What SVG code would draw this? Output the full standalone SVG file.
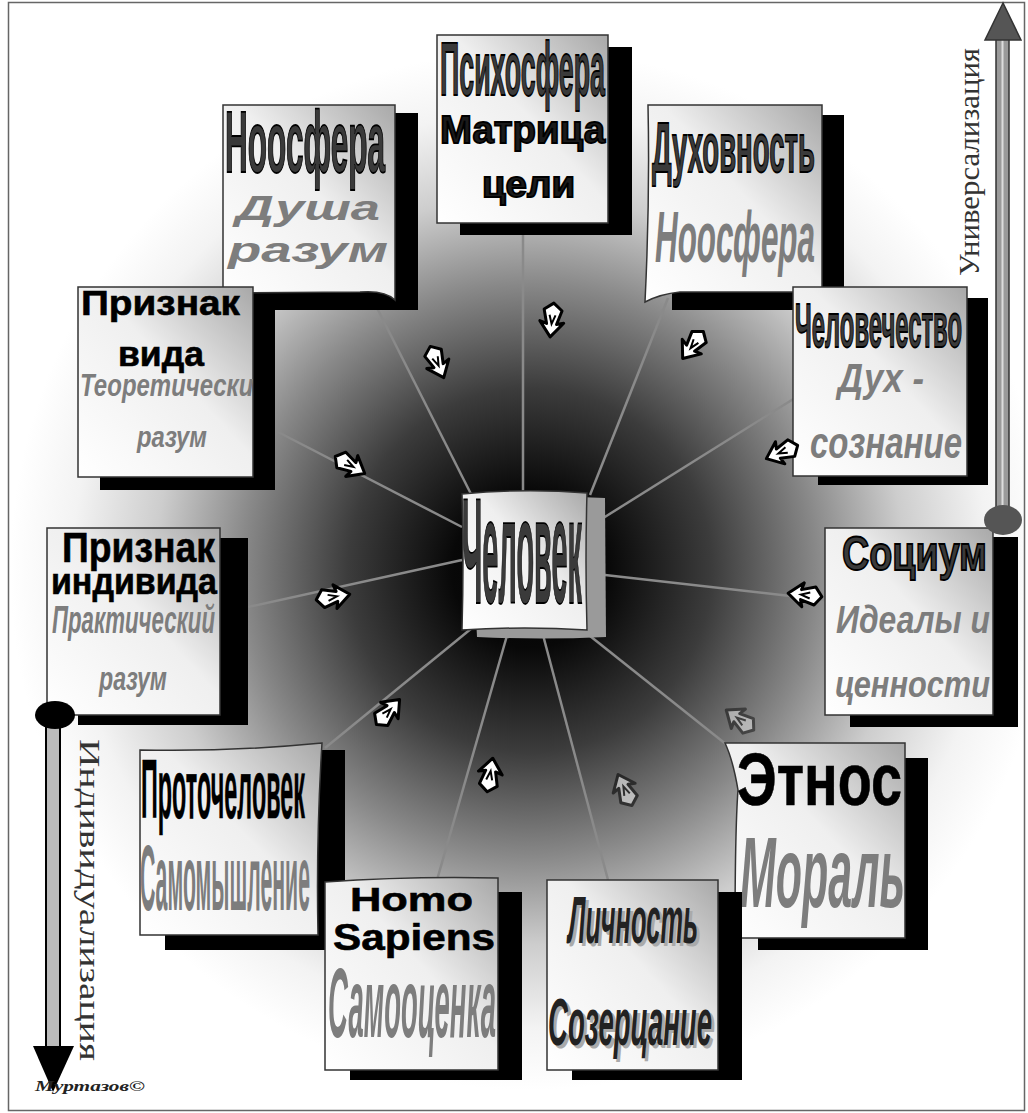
<svg xmlns="http://www.w3.org/2000/svg" xmlns:xlink="http://www.w3.org/1999/xlink" width="1028" height="1113" viewBox="0 0 1028 1113">
<defs>
<radialGradient id="bg" cx="530" cy="570" r="520" gradientUnits="userSpaceOnUse">
<stop offset="0" stop-color="#000"/>
<stop offset="0.15" stop-color="#080808"/>
<stop offset="0.35" stop-color="#3c3c3c"/>
<stop offset="0.55" stop-color="#888"/>
<stop offset="0.72" stop-color="#cdcdcd"/>
<stop offset="0.88" stop-color="#f3f3f3"/>
<stop offset="1" stop-color="#fff"/>
</radialGradient>
<linearGradient id="paper" x1="0" y1="1" x2="1" y2="0">
<stop offset="0" stop-color="#fff"/>
<stop offset="0.55" stop-color="#efefef"/>
<stop offset="1" stop-color="#a8a8a8"/>
</linearGradient>
<clipPath id="clipVida"><rect x="78" y="287" width="175" height="190"/></clipPath>
<g id="arr">
<path d="M17,0 L2,-12 L4,-5 L-10,-9 L-17,0 L-10,9 L4,5 L2,12 Z" fill="#fff" stroke="#000" stroke-width="3" stroke-linejoin="round"/>
<path d="M-5,-3 L4,0 L-5,3" fill="none" stroke="#000" stroke-width="2"/>
</g>
</defs>
<style>
.sh{fill:#000}
.pp{fill:url(#paper);stroke:#333;stroke-width:1.5}
.dk{font-family:"Liberation Sans",Arial,sans-serif;font-weight:bold;fill:#3a3a3a;stroke:#000;stroke-width:1.8}
.bk{font-family:"Liberation Sans",Arial,sans-serif;font-weight:bold;fill:#000;stroke:#000;stroke-width:0.6}
.gi{font-family:"Liberation Sans",Arial,sans-serif;font-weight:bold;font-style:italic;fill:#7d7d7d}
.gu{font-family:"Liberation Sans",Arial,sans-serif;font-weight:bold;fill:#7d7d7d}
.di{font-family:"Liberation Sans",Arial,sans-serif;font-weight:bold;font-style:italic;fill:#222}
.ln{stroke:#8a8a8a;stroke-width:2.5;fill:none}
.ax{font-family:"Liberation Serif","Times New Roman",serif;fill:#333}
</style>
<rect x="8.5" y="2.5" width="1016" height="1108" fill="url(#bg)" stroke="#666" stroke-width="1.5"/>
<g id="connectors">
<line class="ln" x1="376" y1="306" x2="472" y2="496"/>
<line class="ln" x1="523" y1="225" x2="523" y2="493"/>
<line class="ln" x1="668" y1="298" x2="590" y2="495"/>
<line class="ln" x1="278" y1="432" x2="462" y2="527"/>
<line class="ln" x1="795" y1="398" x2="600" y2="520"/>
<line class="ln" x1="248" y1="607" x2="462" y2="560"/>
<line class="ln" x1="825" y1="600" x2="605" y2="575"/>
<line class="ln" x1="325" y1="748" x2="472" y2="628"/>
<line class="ln" x1="727" y1="745" x2="585" y2="632"/>
<line class="ln" x1="437" y1="880" x2="508" y2="632"/>
<line class="ln" x1="608" y1="880" x2="543" y2="635"/>
</g>
<g id="n-center">
<path d="M470,500 Q540,494 605,498 L606,637 Q540,640 477,637 Z" fill="#9a9a9a"/>
<path d="M462,494 Q525,488 587,493 Q585,560 587,630 Q525,626 462,630 Q464,560 462,494 Z" class="pp"/>
<text class="dk" x="462" y="603" font-size="150" textLength="120" lengthAdjust="spacingAndGlyphs">Человек</text>
</g>
<g id="n-noosfera">
<rect class="sh" x="240" y="113" width="178" height="197"/>
<path class="pp" d="M223,105 L395,105 L395,300 Q385,290 360,292 L223,293 Z"/>
<text class="dk" x="225" y="172" font-size="88" textLength="160" lengthAdjust="spacingAndGlyphs">Ноосфера</text>
<text class="gi" x="236" y="220" font-size="35" textLength="144" lengthAdjust="spacingAndGlyphs">Душа</text>
<text class="gi" x="228" y="262" font-size="35" textLength="160" lengthAdjust="spacingAndGlyphs">разум</text>
</g>
<g id="n-psycho">
<rect class="sh" x="460" y="47" width="172" height="188"/>
<rect class="pp" x="437" y="35" width="171" height="188"/>
<text class="dk" x="440" y="95" font-size="76" textLength="165" lengthAdjust="spacingAndGlyphs">Психосфера</text>
<text class="dk" x="440" y="143" font-size="39" textLength="165" lengthAdjust="spacingAndGlyphs" style="fill:#1a1a1a">Матрица</text>
<text class="dk" x="482" y="197" font-size="37" textLength="93" lengthAdjust="spacingAndGlyphs" style="fill:#1a1a1a">цели</text>
</g>
<g id="n-duh">
<rect class="sh" x="672" y="115" width="172" height="195"/>
<path class="pp" d="M648,105 L822,105 L822,292 L680,292 Q660,294 645,302 Q650,200 648,105 Z"/>
<text class="dk" x="652" y="172" font-size="70" textLength="163" lengthAdjust="spacingAndGlyphs">Духовность</text>
<text class="gi" x="655" y="262" font-size="72" textLength="160" lengthAdjust="spacingAndGlyphs">Ноосфера</text>
</g>
<g id="n-vida">
<rect class="sh" x="100" y="300" width="175" height="190"/>
<rect class="pp" x="78" y="287" width="175" height="190"/>
<text class="bk" x="81" y="315" font-size="35" textLength="159" lengthAdjust="spacingAndGlyphs">Признак</text>
<text class="bk" x="118" y="366" font-size="35" textLength="86" lengthAdjust="spacingAndGlyphs">вида</text>
<text class="gi" x="80" y="396" font-size="31" textLength="188" lengthAdjust="spacingAndGlyphs" clip-path="url(#clipVida)">Теоретический</text>
<text class="gi" x="137" y="447" font-size="30" textLength="70" lengthAdjust="spacingAndGlyphs">разум</text>
</g>
<g id="n-chelovechestvo">
<rect class="sh" x="818" y="298" width="170" height="187"/>
<rect class="pp" x="793" y="287" width="174" height="189"/>
<text class="dk" x="795" y="347" font-size="63" textLength="167" lengthAdjust="spacingAndGlyphs">Человечество</text>
<text class="gi" x="838" y="392" font-size="40" textLength="86" lengthAdjust="spacingAndGlyphs">Дух -</text>
<text class="gi" x="810" y="458" font-size="44" textLength="152" lengthAdjust="spacingAndGlyphs">сознание</text>
</g>
<g id="n-individ">
<rect class="sh" x="78" y="538" width="170" height="187"/>
<rect class="pp" x="47" y="528" width="173" height="187"/>
<text class="bk" x="62" y="562" font-size="42" textLength="153" lengthAdjust="spacingAndGlyphs">Признак</text>
<text class="bk" x="51" y="594" font-size="36" textLength="166" lengthAdjust="spacingAndGlyphs">индивида</text>
<text class="gi" x="52" y="633" font-size="39" textLength="163" lengthAdjust="spacingAndGlyphs">Практический</text>
<text class="gi" x="99" y="690" font-size="33" textLength="68" lengthAdjust="spacingAndGlyphs">разум</text>
</g>
<g id="n-socium">
<rect class="sh" x="850" y="537" width="168" height="190"/>
<rect class="pp" x="825" y="528" width="168" height="187"/>
<text class="dk" x="842" y="570" font-size="48" textLength="145" lengthAdjust="spacingAndGlyphs">Социум</text>
<text class="gi" x="836" y="633" font-size="39" textLength="154" lengthAdjust="spacingAndGlyphs">Идеалы и</text>
<text class="gi" x="835" y="697" font-size="36" textLength="155" lengthAdjust="spacingAndGlyphs">ценности</text>
</g>
<g id="n-proto">
<rect class="sh" x="165" y="750" width="180" height="200"/>
<path class="pp" d="M140,750 Q230,752 322,743 Q316,840 318,935 L140,935 Z"/>
<text class="bk" x="141" y="818" font-size="84" textLength="164" lengthAdjust="spacingAndGlyphs">Проточеловек</text>
<text class="gu" x="140" y="910" font-size="92" textLength="170" lengthAdjust="spacingAndGlyphs">Самомышление</text>
</g>
<g id="n-etnos">
<rect class="sh" x="758" y="758" width="170" height="192"/>
<path class="pp" d="M725,743 L905,743 L905,938 L735,938 Q735,830 738,790 Q733,760 725,743 Z"/>
<text class="bk" x="737" y="805" font-size="74" textLength="165" lengthAdjust="spacingAndGlyphs">Этнос</text>
<text class="gi" x="740" y="907" font-size="100" textLength="165" lengthAdjust="spacingAndGlyphs">Мораль</text>
</g>
<g id="n-homo">
<rect class="sh" x="350" y="892" width="172" height="188"/>
<path class="pp" d="M325,882 Q410,876 498,878 L498,1070 L325,1070 Z"/>
<text class="bk" x="350" y="911" font-size="34" textLength="123" lengthAdjust="spacingAndGlyphs">Homo</text>
<text class="bk" x="333" y="950" font-size="36" textLength="162" lengthAdjust="spacingAndGlyphs">Sapiens</text>
<text class="gi" x="328" y="1037" font-size="98" textLength="168" lengthAdjust="spacingAndGlyphs">Самооценка</text>
</g>
<g id="n-lichnost">
<rect class="sh" x="572" y="892" width="170" height="188"/>
<rect class="pp" x="547" y="880" width="171" height="190"/>
<text class="di" x="571" y="946" font-size="66" textLength="130" lengthAdjust="spacingAndGlyphs" style="fill:#aaa">Личность</text>
<text class="di" x="568" y="943" font-size="66" textLength="130" lengthAdjust="spacingAndGlyphs">Личность</text>
<text class="di" x="551" y="1048" font-size="66" textLength="164" lengthAdjust="spacingAndGlyphs" style="fill:#aaa">Созерцание</text>
<text class="di" x="548" y="1045" font-size="66" textLength="164" lengthAdjust="spacingAndGlyphs">Созерцание</text>
</g>
<g id="arrows">
<use xlink:href="#arr" transform="translate(437,362) rotate(66.6)"/>
<use xlink:href="#arr" transform="translate(552,320) rotate(96.3)"/>
<use xlink:href="#arr" transform="translate(693,345) rotate(127.4)"/>
<use xlink:href="#arr" transform="translate(350,465) rotate(30)"/>
<use xlink:href="#arr" transform="translate(782,452) rotate(157)"/>
<use xlink:href="#arr" transform="translate(333,597) rotate(-9.5)"/>
<use xlink:href="#arr" transform="translate(805,595) rotate(186)"/>
<use xlink:href="#arr" transform="translate(388,712) rotate(-47)"/>
<use xlink:href="#arr" transform="translate(490,775) rotate(-80.5)"/>
<use xlink:href="#arr" transform="translate(625,790) rotate(-114)" opacity="0.55"/>
<use xlink:href="#arr" transform="translate(740,720) rotate(-144)" opacity="0.45"/>
</g>
<g id="axis-universal">
<rect x="996" y="38" width="13" height="482" fill="#9a9a9a" stroke="#333" stroke-width="1.5"/>
<line x1="1002.5" y1="40" x2="1002.5" y2="518" stroke="#ddd" stroke-width="2"/>
<polygon points="1003,3 985,40 1021,40" fill="#555" stroke="#333" stroke-width="1.5"/>
<ellipse cx="1003" cy="520" rx="19" ry="15" fill="#555"/>
<text class="ax" transform="translate(979,162) rotate(-90)" text-anchor="middle" font-size="29" textLength="228" lengthAdjust="spacingAndGlyphs">Универсализация</text>
</g>
<g id="axis-individ">
<rect x="46" y="715" width="14" height="335" fill="#bbb" stroke="#000" stroke-width="2"/>
<polygon points="53,1092 33,1046 74,1046" fill="#000"/>
<ellipse cx="55" cy="715" rx="20" ry="14" fill="#000"/>
<text class="ax" transform="translate(80,900) rotate(90)" text-anchor="middle" font-size="30" textLength="322" lengthAdjust="spacingAndGlyphs">Индивидуализация</text>
</g>
<text x="35" y="1091" font-family="Liberation Serif, serif" font-style="italic" font-weight="bold" font-size="15" textLength="110" lengthAdjust="spacingAndGlyphs" fill="#222">Муртазов©</text>
</svg>
